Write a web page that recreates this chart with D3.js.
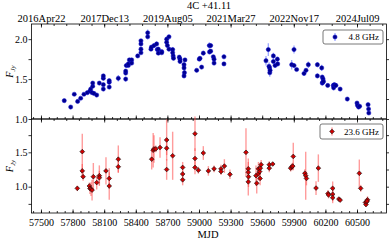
<!DOCTYPE html>
<html><head><meta charset="utf-8">
<script src="https://cdn.jsdelivr.net/npm/d3@7"></script>
<style>body{margin:0;background:#fff}svg{display:block}text{font-family:"Liberation Serif","DejaVu Serif",serif;fill:#000}</style>
</head><body>
<script>
const title = "4C +41.11";
const dateTicks = [57500, 58100, 58700, 59300, 59900, 60500];
const dateLabels = ["2016Apr22", "2017Dec13", "2019Aug05", "2021Mar27", "2022Nov17", "2024Jul09"];
const mjdTicks = [57500, 57800, 58100, 58400, 58700, 59000, 59300, 59600, 59900, 60200, 60500];
const yTicksTop = [1.0, 1.5, 2.0];
const yTicksBot = [1.0, 1.5];
const label48 = "4.8 GHz";
const label23 = "23.6 GHz";

const mjd48 = [57721,57782,57816,57848,57877,57908,57940,57965,57972,57985,57991,57991,58003,58029,58054,58092,58092,58092,58092,58148,58148,58148,58234,58304,58304,58304,58310,58329,58329,58339,58361,58361,58418,58449,58449,58449,58449,58513,58513,58544,58548,58573,58598,58604,58614,58614,58646,58646,58693,58693,58700,58715,58715,58750,58750,58755,58758,58813,58820,58820,58858,58858,58862,58858,58867,58978,59003,59009,59025,59041,59098,59111,59100,59111,59136,59143,59143,59237,59237,59636,59658,59665,59670,59672,59675,59706,59706,59722,59744,59747,59880,59902,59902,59927,59997,60016,60038,60124,60124,60165,60170,60178,60170,60175,60182,60222,60275,60278,60285,60290,60300,60340,60408,60500,60505,60515,60525,60605,60610,60612];
const flux48 = [1.23,1.15,1.31,1.22,1.26,1.31,1.33,1.35,1.375,1.33,1.41,1.45,1.32,1.30,1.45,1.375,1.43,1.51,1.54,1.40,1.46,1.48,1.51,1.50,1.575,1.60,1.67,1.67,1.69,1.74,1.74,1.70,1.79,1.83,1.875,1.94,1.98,2.03,2.08,1.875,1.90,1.92,1.94,1.87,1.875,1.825,1.845,1.83,2.0,1.96,1.92,2.03,1.875,1.87,1.83,1.79,1.76,1.775,1.75,1.72,1.68,1.64,1.58,1.54,1.74,1.61,1.75,1.76,1.65,1.825,1.92,1.92,1.84,1.85,1.78,1.75,1.70,1.78,1.69,1.73,1.87,1.66,1.64,1.58,1.61,1.79,1.72,1.67,1.75,1.69,1.68,1.87,1.67,1.62,1.57,1.61,1.68,1.68,1.54,1.64,1.525,1.50,1.45,1.46,1.47,1.42,1.42,1.39,1.43,1.42,1.42,1.375,1.25,1.20,1.17,1.15,1.16,1.18,1.125,1.075];
const err48 = [0.02,0.015,0.015,0.02,0.015,0.015,0.02,0.02,0.02,0.015,0.02,0.02,0.02,0.015,0.02,0.02,0.02,0.02,0.02,0.02,0.02,0.02,0.04,0.03,0.02,0.02,0.03,0.02,0.02,0.02,0.02,0.02,0.02,0.02,0.03,0.03,0.02,0.03,0.04,0.02,0.02,0.03,0.03,0.02,0.03,0.02,0.02,0.02,0.03,0.03,0.02,0.03,0.03,0.03,0.03,0.02,0.02,0.02,0.02,0.03,0.03,0.03,0.04,0.03,0.02,0.02,0.02,0.03,0.02,0.03,0.04,0.03,0.03,0.02,0.02,0.02,0.02,0.03,0.02,0.06,0.08,0.05,0.04,0.05,0.04,0.04,0.03,0.03,0.03,0.03,0.06,0.05,0.03,0.02,0.03,0.03,0.04,0.03,0.03,0.04,0.03,0.03,0.03,0.03,0.03,0.02,0.03,0.03,0.02,0.02,0.02,0.02,0.02,0.02,0.02,0.02,0.02,0.02,0.02,0.02];

const mjd23 = [57845,57892,57892,57900,57959,57965,57975,57985,57997,58029,58054,58054,58117,58148,58148,58234,58234,58551,58565,58573,58590,58630,58693,58693,58693,58750,58845,58845,58845,58962,58962,58962,58994,59041,59089,59143,59209,59209,59241,59294,59446,59468,59468,59470,59468,59541,59548,59564,59564,59576,59582,59590,59580,59667,59667,59700,59870,59883,59890,59895,60005,60013,60020,60111,60133,60225,60230,60269,60269,60269,60328,60340,60522,60535,60580,60585,60590,60600,60595];
const flux23 = [0.976,1.51,1.23,1.145,1.01,0.975,0.966,0.95,1.145,1.06,1.16,1.13,1.23,1.12,1.01,1.40,1.29,1.40,1.53,1.55,1.55,1.57,1.68,1.56,1.25,1.45,1.28,1.185,1.10,1.77,1.41,1.28,1.24,1.49,1.23,1.26,1.26,1.22,1.30,1.18,1.50,1.26,1.21,1.145,1.07,1.16,1.05,1.26,1.19,1.22,1.27,1.32,1.12,1.32,1.27,1.33,1.27,1.29,1.30,1.44,1.195,1.16,1.12,0.98,1.27,0.90,0.88,0.976,0.89,0.84,0.82,0.805,1.195,0.976,0.77,0.74,0.78,0.81,0.79];
const err23 = [0.04,0.26,0.1,0.06,0.05,0.08,0.1,0.15,0.2,0.1,0.15,0.1,0.2,0.15,0.2,0.2,0.08,0.15,0.25,0.2,0.05,0.15,0.3,0.1,0.15,0.35,0.08,0.05,0.08,0.25,0.15,0.1,0.05,0.1,0.07,0.05,0.06,0.05,0.1,0.07,0.35,0.15,0.15,0.15,0.2,0.15,0.15,0.1,0.1,0.1,0.08,0.07,0.1,0.05,0.06,0.03,0.05,0.05,0.05,0.2,0.06,0.35,0.1,0.1,0.2,0.05,0.05,0.1,0.1,0.08,0.03,0.02,0.2,0.05,0.04,0.03,0.05,0.05,0.05];

const W = 389, H = 241;
const L = 31.5, R = 386.5, T1 = 24, B1 = 119, T2 = 119, B2 = 213;
const svg = d3.select("body").append("svg").attr("width", W).attr("height", H);

const x = d3.scaleLinear().domain([57410, 60780]).range([L, R]);
const yTop = d3.scaleLinear().domain([1.0, 2.19]).range([B1, T1]);
const yBot = d3.scaleLinear().domain([0.617, 1.985]).range([B2, T2]);

const fmt = d3.format(".1f");
const minorX = d3.range(57450, 60780, 75).filter(v => v >= 57410);

function panel(y, yt, top, bottom) {
  const g = svg.append("g");
  // bottom x axis ticks (inward)
  g.append("g").attr("transform", `translate(0,${bottom})`)
    .call(d3.axisBottom(x).tickValues(mjdTicks).tickSize(-3.5).tickFormat(""))
    .call(a => a.select(".domain").remove());
  g.append("g").attr("transform", `translate(0,${bottom})`)
    .call(d3.axisBottom(x).tickValues(d3.range(57425, 60780, 75)).tickSize(-2).tickFormat(""))
    .call(a => a.select(".domain").remove());
  // top x ticks
  g.append("g").attr("transform", `translate(0,${top})`)
    .call(d3.axisTop(x).tickValues(dateTicks).tickSize(-3.5).tickFormat(""))
    .call(a => a.select(".domain").remove());
  g.append("g").attr("transform", `translate(0,${top})`)
    .call(d3.axisTop(x).tickValues(d3.range(57500 - 120, 60780, 120).filter(v => v > 57410)).tickSize(-2).tickFormat(""))
    .call(a => a.select(".domain").remove());
  // y ticks
  const yMinor = d3.range(0.75, 2.26, 0.25).filter(v => v >= y.domain()[0] && v <= y.domain()[1]);
  g.append("g").attr("transform", `translate(${L},0)`)
    .call(d3.axisLeft(y).tickValues(yMinor).tickSize(3).tickFormat(""))
    .call(a => a.select(".domain").remove());
  g.append("g").attr("transform", `translate(${R},0)`)
    .call(d3.axisRight(y).tickValues(yMinor).tickSize(3).tickFormat(""))
    .call(a => a.select(".domain").remove());
  const yl = g.append("g").attr("transform", `translate(${L},0)`)
    .call(d3.axisLeft(y).tickValues(yt).tickSize(0).tickPadding(4).tickFormat(fmt));
  yl.select(".domain").remove();
  yl.selectAll("text").attr("font-size", 10).attr("font-family", "Liberation Serif");
  g.selectAll("line").attr("stroke", "#000").attr("stroke-width", 0.8);
  g.append("rect").attr("x", L).attr("y", top).attr("width", R - L).attr("height", bottom - top)
    .attr("fill", "none").attr("stroke", "#000").attr("stroke-width", 0.8);
}
panel(yTop, yTicksTop, T1, B1);
panel(yBot, yTicksBot, T2, B2);

// bottom MJD labels
const xb = svg.append("g").attr("transform", `translate(0,${B2})`)
  .call(d3.axisBottom(x).tickValues(mjdTicks).tickSize(0).tickPadding(6).tickFormat(d3.format("d")));
xb.select(".domain").remove();
xb.selectAll("text").attr("font-size", 10).attr("font-family", "Liberation Serif");
// top date labels
const xt = svg.append("g").attr("transform", `translate(0,${T1})`)
  .call(d3.axisTop(x).tickValues(dateTicks).tickSize(0).tickPadding(2.5).tickFormat((d, i) => dateLabels[i]));
xt.select(".domain").remove();
xt.selectAll("text").attr("font-size", 10.5).attr("font-family", "Liberation Serif");

svg.append("text").attr("x", (L + R) / 2).attr("y", 8.5).attr("text-anchor", "middle")
  .attr("font-size", 10.5).text(title);
svg.append("text").attr("x", (L + R) / 2 - 1).attr("y", 237.5).attr("text-anchor", "middle")
  .attr("font-size", 10.5).text("MJD");

function ylab(cy) {
  const t = svg.append("text").attr("transform", `translate(13,${cy}) rotate(-90)`).attr("text-anchor", "middle").attr("font-size", 10);
  t.append("tspan").attr("font-style", "italic").text("F");
  t.append("tspan").attr("font-size", 7).attr("dy", 2).attr("font-style", "italic").text("Jy");
}
ylab((T1 + B1) / 2);
ylab((T2 + B2) / 2);

// data
const d48 = mjd48.map((m, i) => ({m, f: flux48[i], e: err48[i]}));
const d23 = mjd23.map((m, i) => ({m, f: flux23[i], e: err23[i]}));

const g48 = svg.append("g");
g48.selectAll("line").data(d48).join("line")
  .attr("x1", d => x(d.m)).attr("x2", d => x(d.m))
  .attr("y1", d => yTop(d.f - d.e)).attr("y2", d => yTop(d.f + d.e))
  .attr("stroke", "#5a6cff").attr("stroke-opacity", 0.6).attr("stroke-width", 1.3);
g48.selectAll("circle").data(d48).join("circle")
  .attr("cx", d => x(d.m)).attr("cy", d => yTop(d.f)).attr("r", 2.1)
  .attr("fill", "#00008f").attr("stroke", "#1010d0").attr("stroke-width", 0.5);

const g23 = svg.append("g");
g23.selectAll("line").data(d23).join("line")
  .attr("x1", d => x(d.m)).attr("x2", d => x(d.m))
  .attr("y1", d => yBot(d.f - d.e)).attr("y2", d => yBot(d.f + d.e))
  .attr("stroke", "#ff4a4a").attr("stroke-opacity", 0.55).attr("stroke-width", 1.4);
const dia = d3.symbol().type(d3.symbolSquare).size(11);
g23.selectAll("path").data(d23).join("path")
  .attr("d", dia).attr("transform", d => `translate(${x(d.m)},${yBot(d.f)}) rotate(45)`)
  .attr("fill", "#d00000").attr("stroke", "#111").attr("stroke-width", 0.6);

// legends
function legend(x0, y0, w, h, label, isRed) {
  const g = svg.append("g");
  g.append("rect").attr("x", x0).attr("y", y0).attr("width", w).attr("height", h).attr("rx", 2)
    .attr("fill", "#fff").attr("stroke", "#555").attr("stroke-width", 0.8);
  const mx = x0 + 12, my = y0 + h / 2;
  g.append("line").attr("x1", mx).attr("x2", mx).attr("y1", my - 4).attr("y2", my + 4)
    .attr("stroke", isRed ? "#ff4a4a" : "#5a6cff").attr("stroke-opacity", 0.6).attr("stroke-width", 1.3);
  if (isRed) {
    g.append("path").attr("d", dia).attr("transform", `translate(${mx},${my}) rotate(45)`)
      .attr("fill", "#d00000").attr("stroke", "#111").attr("stroke-width", 0.6);
  } else {
    g.append("circle").attr("cx", mx).attr("cy", my).attr("r", 2.1).attr("fill", "#00008f").attr("stroke", "#1010d0").attr("stroke-width", 0.5);
  }
  g.append("text").attr("x", x0 + w - 4).attr("y", my + 3.2).attr("text-anchor", "end").attr("font-size", 9).text(label);
}
legend(323, 30, 60, 14, label48, false);
legend(320, 124, 63, 15, label23, true);
</script>
</body></html>
